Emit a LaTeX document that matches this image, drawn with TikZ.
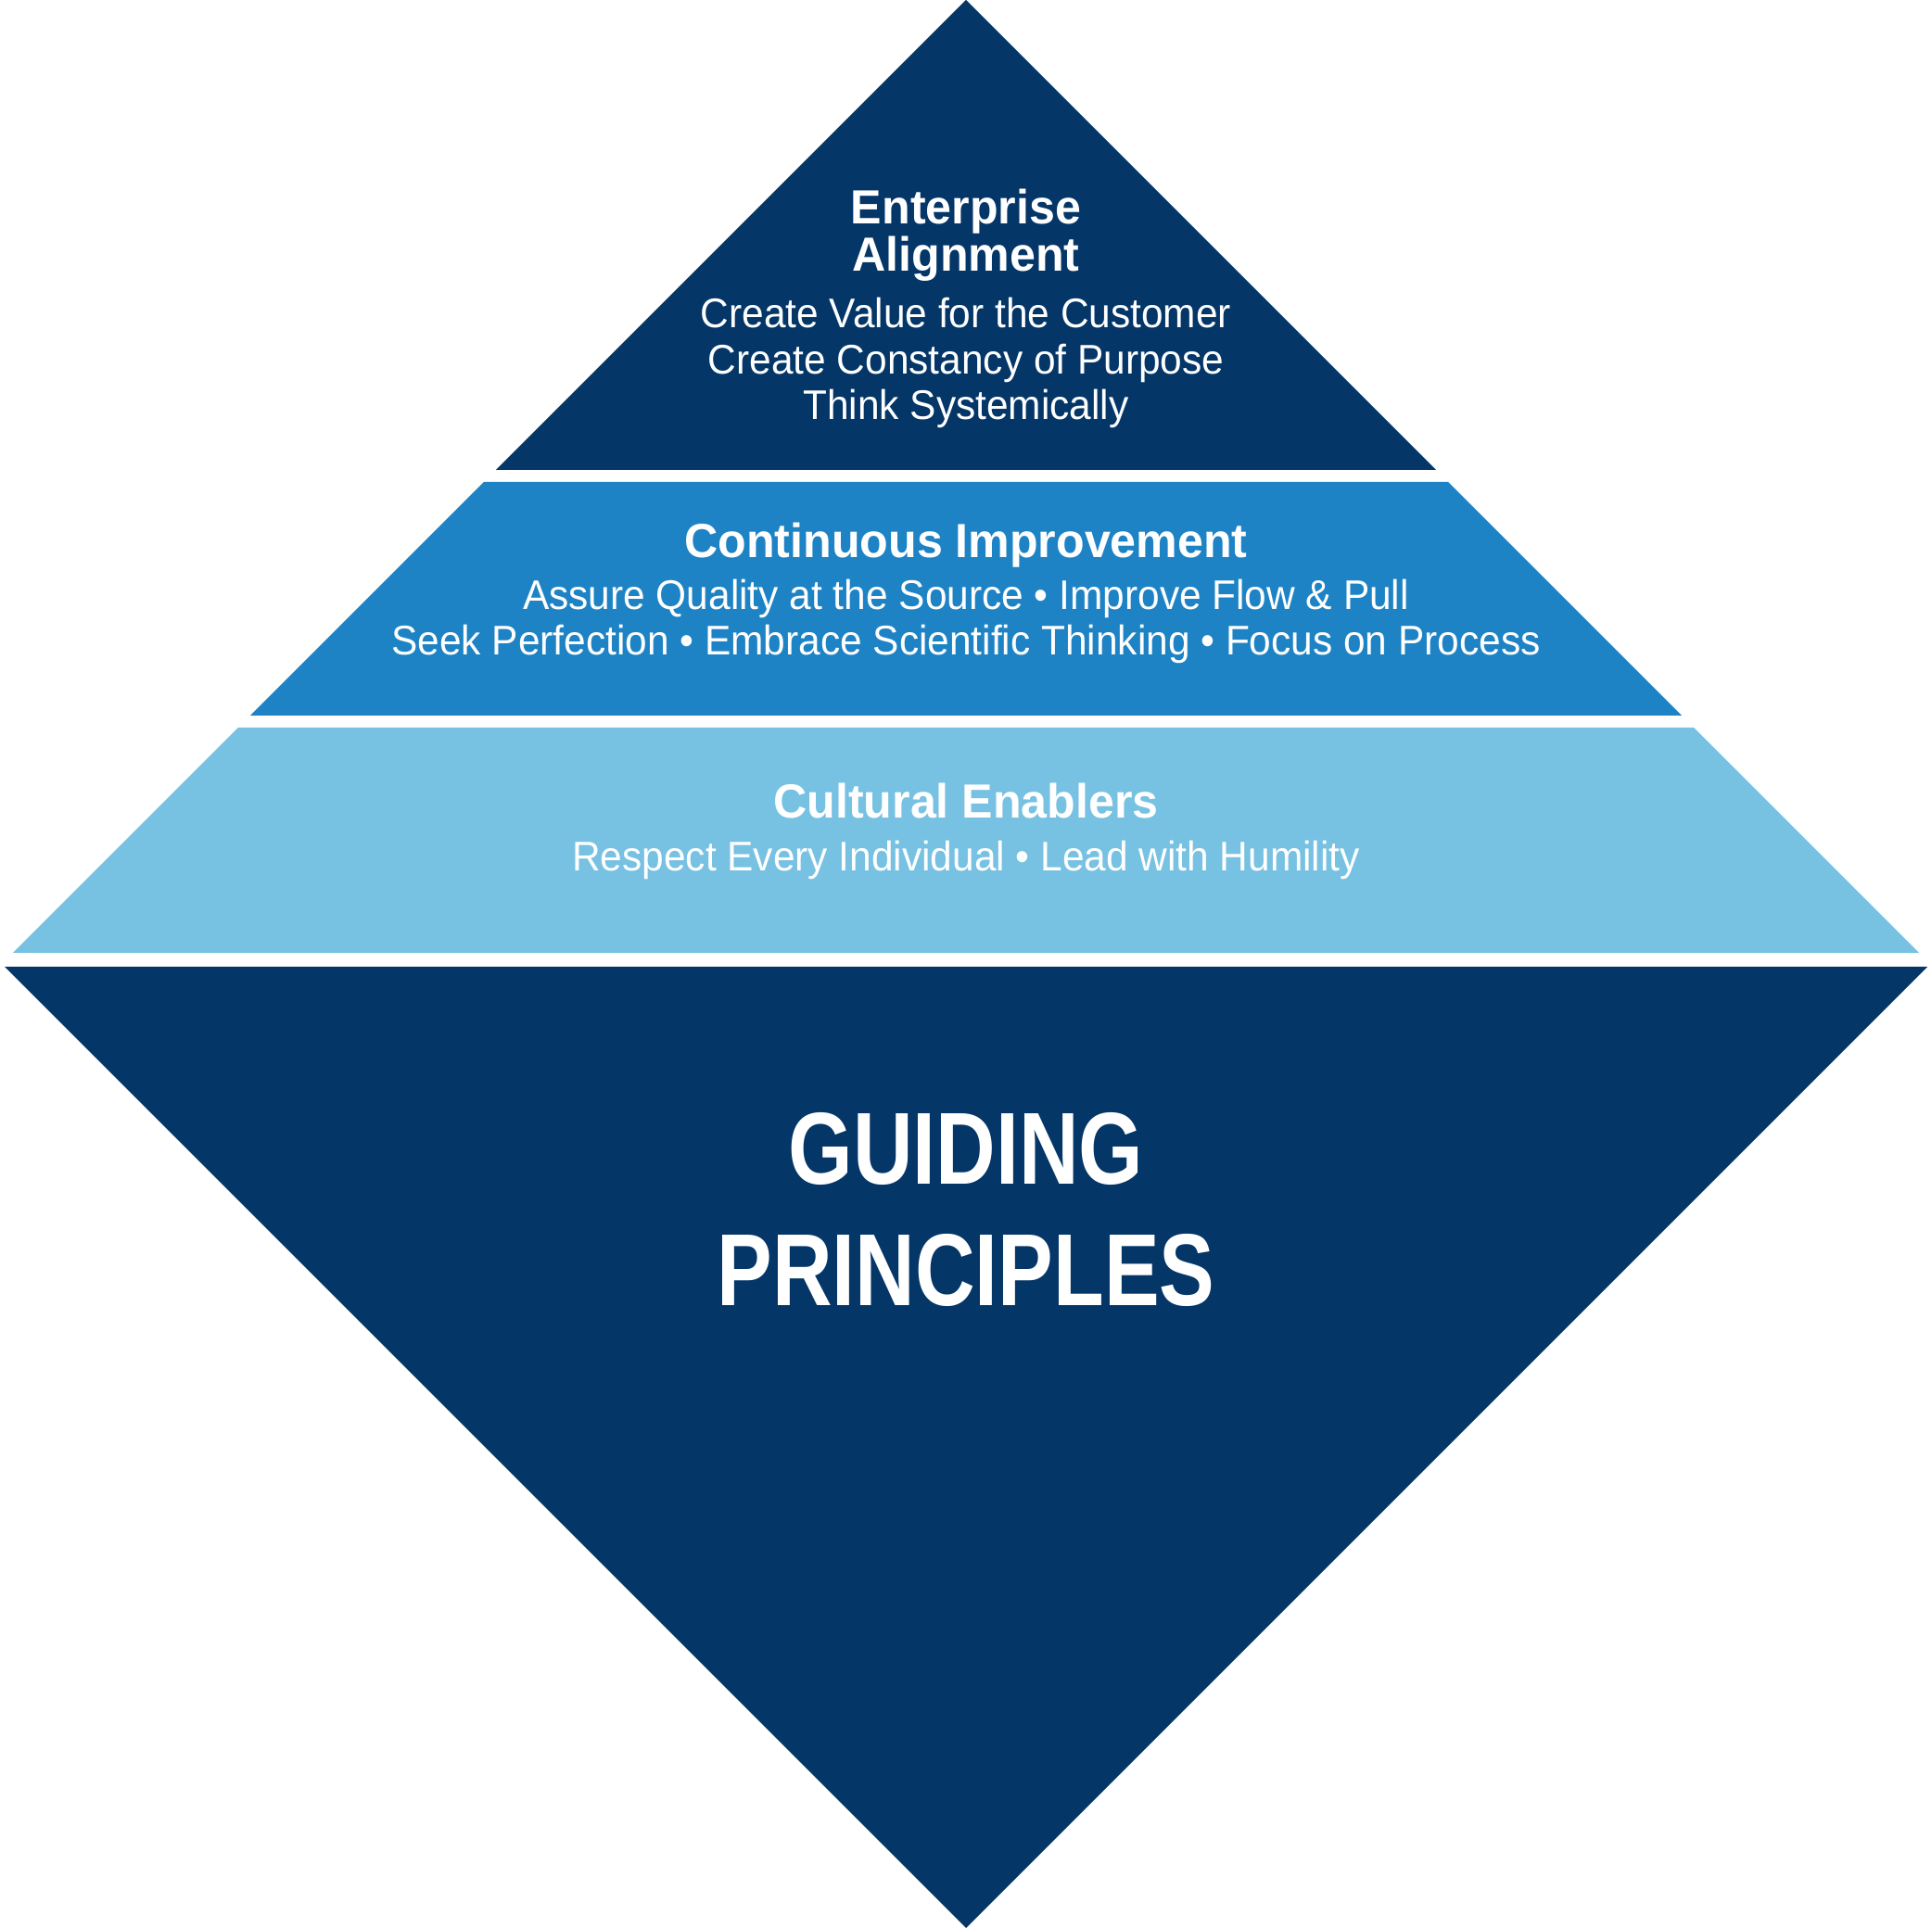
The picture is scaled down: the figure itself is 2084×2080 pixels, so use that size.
\documentclass[tikz,border=0pt]{standalone}
\usepackage{fontspec}
\setmainfont{Liberation Sans}[FakeStretch=0.95]
\newfontfamily\headfont{Liberation Sans}[FakeStretch=0.97]
\newfontfamily\titlefont{Liberation Sans}[FakeStretch=0.81]
\usepackage{tikz}
\definecolor{navy}{RGB}{4,54,104}
\definecolor{midblue}{RGB}{30,131,197}
\definecolor{lightblue}{RGB}{119,193,226}

\begin{document}
\begin{tikzpicture}[x=0.01cm, y=-0.01cm,
  head/.style={text=white, inner sep=0pt, anchor=base, align=center,
               font=\headfont\bfseries\fontsize{14.7}{13.7}\selectfont},
  items/.style={text=white, inner sep=0pt, anchor=base, align=center,
                font=\fontsize{12.7}{14.2}\selectfont},
  title/.style={text=white, inner sep=0pt, anchor=base, align=center,
                font=\titlefont\bfseries\fontsize{31.4}{37.3}\selectfont}]
  \useasboundingbox (0,0) rectangle (2084,2080);
  % tiers
  \fill[navy] (1042,0) -- (1549,507) -- (535,507) -- cycle;
  \fill[midblue] (522,520) -- (1562,520) -- (1814,772) -- (270,772) -- cycle;
  \fill[lightblue] (257,785) -- (1827,785) -- (2070,1028) -- (14,1028) -- cycle;
  \fill[navy] (5,1043) -- (2079,1043) -- (1042,2080) -- cycle;
  % labels (base = last line)
  \node[head] (ea) at (1042,293) {Enterprise\\Alignment};
  \node[items] (eaitems) at (1042,453) {Create Value for the Customer\\Create Constancy of Purpose\\Think Systemically};
  \node[head] (ci) at (1042,602) {Continuous Improvement};
  \node[items] (ciitems) at (1042,707) {Assure Quality at the Source • Improve Flow \& Pull\\Seek Perfection • Embrace Scientific Thinking • Focus on Process};
  \node[head] (ce) at (1042,883) {Cultural Enablers};
  \node[items] (ceitems) at (1042,940) {Respect Every Individual • Lead with Humility};
  \node[title] (gp) at (1042,1409) {GUIDING\\PRINCIPLES};
\end{tikzpicture}
\end{document}
